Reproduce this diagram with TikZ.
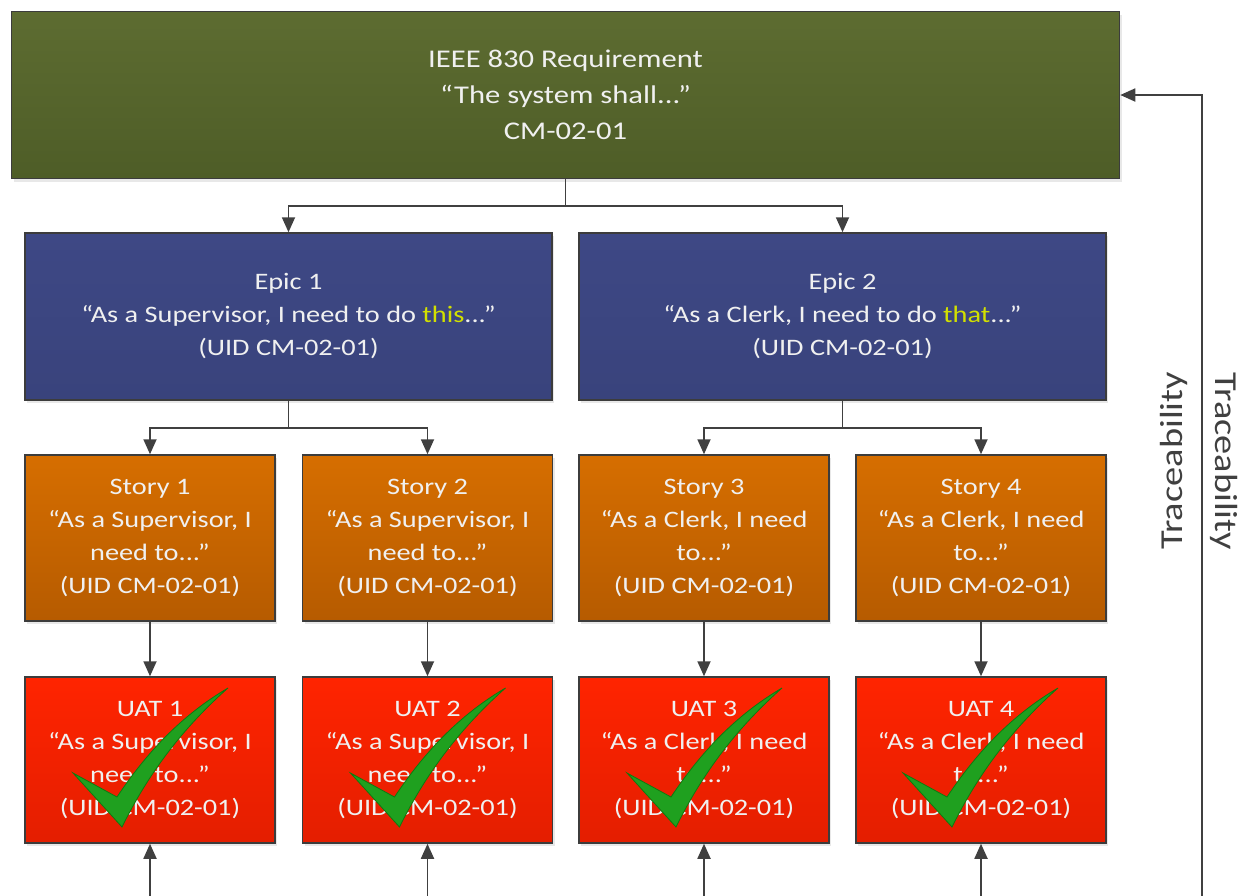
\documentclass[tikz,border=0pt]{standalone}
\usepackage{fontspec}
\setmainfont{Carlito}[FakeStretch=1.2]
\usetikzlibrary{arrows.meta,shadows}
\definecolor{gtop}{HTML}{5D6C31}
\definecolor{gbot}{HTML}{4E5D27}
\definecolor{btop}{HTML}{3E4885}
\definecolor{bbot}{HTML}{39437C}
\definecolor{otop}{HTML}{D66E00}
\definecolor{obot}{HTML}{B65B00}
\definecolor{rtop}{HTML}{FF2400}
\definecolor{rbot}{HTML}{E41E00}
\definecolor{edge}{HTML}{3C3C3C}
\definecolor{linec}{HTML}{404040}
\definecolor{txt}{HTML}{F0F0F0}
\definecolor{hl}{HTML}{D2E000}
\definecolor{chkg}{HTML}{1FA01F}
\definecolor{chkd}{HTML}{0F7A0F}
\begin{document}
\begin{tikzpicture}[x=1pt,y=-1pt,
  box/.style={draw=edge, line width=1.5pt, align=center, text=txt, inner sep=0pt,
    font=\fontsize{23.6}{33}\selectfont,
    drop shadow={shadow xshift=2pt, shadow yshift=-3pt, fill=black!18}},
  topbox/.style={box, top color=gtop, bottom color=gbot, minimum width=1108pt, minimum height=167pt,
    font=\fontsize{25.5}{36}\selectfont},
  epicbox/.style={box, top color=btop, bottom color=bbot, minimum width=527pt, minimum height=167pt},
  storybox/.style={box, top color=otop, bottom color=obot, minimum width=250pt, minimum height=166pt},
  uatbox/.style={box, top color=rtop, bottom color=rbot, minimum width=250pt, minimum height=166pt},
  conn/.style={draw=linec, line width=1.8pt, -{Triangle[length=15pt,width=13pt]}},
  trace/.style={text=linec, font=\fontsize{32}{36}\selectfont},
  chk/.pic={\fill[chkg, draw=chkd, line width=0.8pt] (0,0) -- (-49,-54) -- (-5,-30)
      .. controls (25,-75) and (60,-112) .. (106,-139)
      .. controls (62,-100) and (27,-55) .. (0,0) -- cycle;}
]
\useasboundingbox (0,0) rectangle (1248,895);

\node[topbox] (req) at (565.5,95) {IEEE 830 Requirement\\“The system shall...”\\CM-02-01};

\node[epicbox] (e1) at (288.5,316.5) {Epic 1\\“As a Supervisor, I need to do \textcolor{hl}{this}...”\\(UID CM-02-01)};
\node[epicbox] (e2) at (842.5,316.5) {Epic 2\\“As a Clerk, I need to do \textcolor{hl}{that}...”\\(UID CM-02-01)};

\node[storybox] (s1) at (150,538) {Story 1\\“As a Supervisor, I\\need to...”\\(UID CM-02-01)};
\node[storybox] (s2) at (427.5,538) {Story 2\\“As a Supervisor, I\\need to...”\\(UID CM-02-01)};
\node[storybox] (s3) at (704,538) {Story 3\\“As a Clerk, I need\\to...”\\(UID CM-02-01)};
\node[storybox] (s4) at (981,538) {Story 4\\“As a Clerk, I need\\to...”\\(UID CM-02-01)};

\node[uatbox] (u1) at (150,760) {UAT 1\\“As a Supervisor, I\\need to...”\\(UID CM-02-01)};
\node[uatbox] (u2) at (427.5,760) {UAT 2\\“As a Supervisor, I\\need to...”\\(UID CM-02-01)};
\node[uatbox] (u3) at (704,760) {UAT 3\\“As a Clerk, I need\\to...”\\(UID CM-02-01)};
\node[uatbox] (u4) at (981,760) {UAT 4\\“As a Clerk, I need\\to...”\\(UID CM-02-01)};

\pic at (122,827) {chk};
\pic at (399.5,827) {chk};
\pic at (676,827) {chk};
\pic at (952,827) {chk};

% connectors
\coordinate (j0) at (565.5,206);
\draw[draw=linec, line width=1.8pt] (req.south) -- (j0);
\draw[conn] (j0) -| (e1.north);
\draw[conn] (j0) -| (e2.north);

\coordinate (j1) at (288.5,428);
\coordinate (j2) at (842.5,428);
\draw[draw=linec, line width=1.8pt] (e1.south) -- (j1);
\draw[draw=linec, line width=1.8pt] (e2.south) -- (j2);
\draw[conn] (j1) -| (s1.north);
\draw[conn] (j1) -| (s2.north);
\draw[conn] (j2) -| (s3.north);
\draw[conn] (j2) -| (s4.north);

\draw[conn] (s1) -- (u1);
\draw[conn] (s2) -- (u2);
\draw[conn] (s3) -- (u3);
\draw[conn] (s4) -- (u4);

\coordinate (b1) at (150,896);
\coordinate (b2) at (427.5,896);
\coordinate (b3) at (704,896);
\coordinate (b4) at (981,896);
\draw[conn] (b1) -- (u1);
\draw[conn] (b2) -- (u2);
\draw[conn] (b3) -- (u3);
\draw[conn] (b4) -- (u4);

\coordinate (tb) at (1202,896);
\draw[conn] (tb) |- (req.east);

\node[trace, rotate=90] (t1) at (1174,461) {Traceability};
\node[trace, rotate=-90] (t2) at (1224,461) {Traceability};
\end{tikzpicture}
\end{document}
